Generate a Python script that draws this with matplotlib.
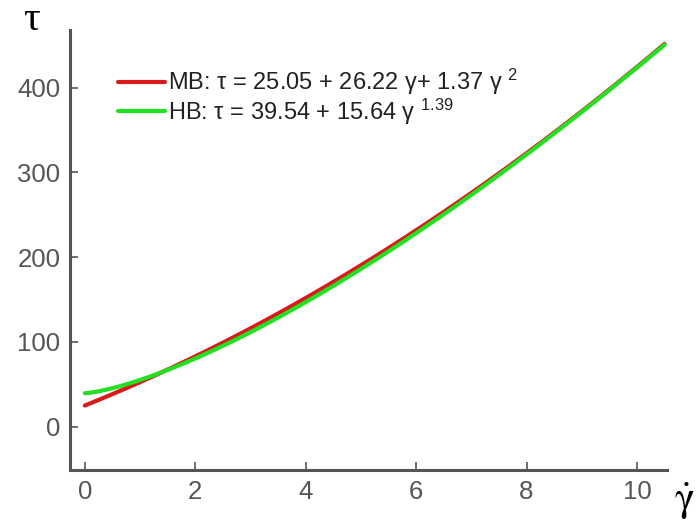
import numpy as np
import matplotlib.pyplot as plt

plt.rcParams["font.family"] = ["Liberation Sans", "DejaVu Sans"]
plt.rcParams["mathtext.fontset"] = "custom"
plt.rcParams["mathtext.rm"] = "Liberation Sans"
plt.rcParams["mathtext.it"] = "Liberation Sans"

# shear rate range
gamma_range = [0.0, 10.5]

# MB fit: tau = a + b*g + c*g^2
mb_coef = [25.05, 26.22, 1.37]
# HB fit: tau = t0 + k*g^n
hb_coef = [39.54, 15.64, 1.39]

mb_label = r"MB: τ = 25.05 + 26.22 γ+ 1.37 γ $^{2}$"
hb_label = r"HB: τ = 39.54 + 15.64 γ $^{1.39}$"

x_ticks = [0, 2, 4, 6, 8, 10]
y_ticks = [0, 100, 200, 300, 400]

g = np.linspace(gamma_range[0], gamma_range[1], 300)
tau_mb = mb_coef[0] + mb_coef[1] * g + mb_coef[2] * g ** 2
tau_hb = hb_coef[0] + hb_coef[1] * g ** hb_coef[2]

fig = plt.figure(figsize=(6.97, 5.29), dpi=100)
ax = fig.add_axes([0.1004, 0.1115, 0.857, 0.832])

ax.plot(g, tau_mb, color="#d91a1a", lw=3.0, label=mb_label, solid_capstyle="round")
ax.plot(g, tau_hb, color="#22e022", lw=3.0, label=hb_label, solid_capstyle="round")

ax.set_xlim(-0.27, 10.55)
ax.set_ylim(-51, 468)
ax.set_xticks(x_ticks)
ax.set_yticks(y_ticks)

for side in ["top", "right"]:
    ax.spines[side].set_visible(False)
for side in ["left", "bottom"]:
    ax.spines[side].set_color("#555555")
    ax.spines[side].set_linewidth(2.2)

ax.tick_params(direction="in", length=6, width=1.2, color="#555555",
               labelcolor="#555555", labelsize=18.5, pad=7)

leg = ax.legend(loc="upper left", bbox_to_anchor=(0.08, 0.915), frameon=False,
                fontsize=17, handlelength=2.0, handletextpad=0.12,
                labelspacing=-0.05, borderpad=0, borderaxespad=0)
for t in leg.get_texts():
    t.set_color("#222222")

fig.text(0.045, 0.962, "τ", fontsize=30, ha="center", va="center",
         family="Liberation Serif")
fig.text(0.982, 0.052, r"$\dot{\mathrm{\gamma}}$", fontsize=30, ha="center", va="center",
         math_fontfamily="stix")

fig.savefig("out.png", dpi=100)
